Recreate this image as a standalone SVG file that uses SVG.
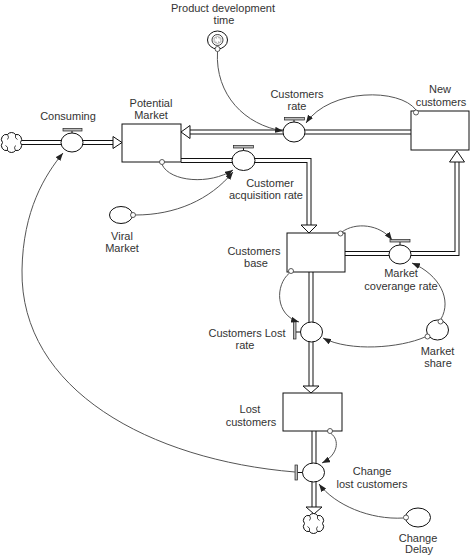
<svg xmlns="http://www.w3.org/2000/svg" width="471" height="557" viewBox="0 0 471 557">
<defs>
<style>
.lbl{font-family:"Liberation Sans",Arial,sans-serif;font-size:11px;fill:#333;text-anchor:middle}
.stock{fill:#fff;stroke:#111;stroke-width:1}
.valve{fill:#fff;stroke:#111;stroke-width:1}
.aux{fill:#fff;stroke:#111;stroke-width:1}
.pipeo{fill:none;stroke:#111;stroke-width:5}
.pipei{fill:none;stroke:#fff;stroke-width:3}
.head{fill:#fff;stroke:#111;stroke-width:1}
.link{fill:none;stroke:#555;stroke-width:1;marker-end:url(#arr)}
.dot{fill:#fff;stroke:#333;stroke-width:0.8}
.handle{fill:#bbb;stroke:#222;stroke-width:0.7}
.stem{stroke:#111;stroke-width:1}
.cloud{fill:#fff;stroke:#111;stroke-width:1}
.curl{fill:none;stroke:#111;stroke-width:0.8}
</style>
<marker id="arr" markerWidth="8" markerHeight="6" refX="8" refY="3" orient="auto" markerUnits="userSpaceOnUse"><path d="M0,0 L8,3 L0,6 z" fill="#222"/></marker>
<g id="cloudShape">
<path class="cloud" d="M-4,-8 a5,5 0 0 1 8,0 a5,5 0 0 1 5,8 a5,5 0 0 1 -5,8 a5,5 0 0 1 -8,0 a5,5 0 0 1 -5,-8 a5,5 0 0 1 5,-8 z"/>
<path class="curl" d="M-4,-8 q2,3 0,5 M4,-8 q-1,4 2,5 M4,8 q-2,-3 0,-5 M-4,8 q1,-4 -2,-5"/>
</g>
</defs>
<rect width="471" height="557" fill="#fff"/>

<g id="flows">
<path class="pipeo" d="M22,142.5 H114"/><path class="pipei" d="M22,142.5 H114"/>
<polygon class="head" points="113,136.5 122,142.5 113,148.5"/>
<path class="pipeo" d="M411,132 H189"/><path class="pipei" d="M411,132 H189"/>
<polygon class="head" points="190,125.5 181,132 190,138.5"/>
<path class="pipeo" d="M181,160.5 H309 V226"/><path class="pipei" d="M181,160.5 H309 V226"/>
<polygon class="head" points="301,225 309,233 317,225"/>
<path class="pipeo" d="M345,253.5 H457 V161"/><path class="pipei" d="M345,253.5 H457 V161"/>
<polygon class="head" points="449.5,162 457,151 464.5,162"/>
<path class="pipeo" d="M311,272 V387"/><path class="pipei" d="M311,272 V387"/>
<polygon class="head" points="303,386 311,393 319,386"/>
<path class="pipeo" d="M314,431 V508"/><path class="pipei" d="M314,431 V508"/>
<polygon class="head" points="306,507 314,514 322,507"/>
</g>

<g id="source-cloud"><use href="#cloudShape" transform="translate(11.5,142.5)"/></g>
<g id="sink-cloud"><use href="#cloudShape" transform="translate(313.5,523.5)"/></g>

<g id="potential-market">
<rect class="stock" x="122" y="124" width="59" height="38"/>
<circle class="dot" cx="162" cy="162" r="2.5"/>
<text class="lbl" x="151" y="107">Potential</text>
<text class="lbl" x="151" y="119">Market</text>
</g>

<g id="new-customers">
<rect class="stock" x="411" y="111" width="58" height="39"/>
<circle class="dot" cx="416" cy="112.5" r="2.5"/>
<text class="lbl" x="440" y="93">New</text>
<text class="lbl" x="441" y="106">customers</text>
</g>

<g id="customers-base">
<rect class="stock" x="287" y="233" width="58" height="39"/>
<circle class="dot" cx="340.5" cy="233.5" r="2.5"/>
<circle class="dot" cx="291" cy="271" r="2.5"/>
<text class="lbl" x="254" y="255">Customers</text>
<text class="lbl" x="256" y="267">base</text>
</g>

<g id="lost-customers">
<rect class="stock" x="283" y="393" width="59" height="38"/>
<circle class="dot" cx="330" cy="431" r="2.5"/>
<text class="lbl" x="250" y="413">Lost</text>
<text class="lbl" x="251" y="426">customers</text>
</g>

<g id="consuming">
<ellipse class="valve" cx="72" cy="142.5" rx="11" ry="9.5"/>
<line class="stem" x1="72" y1="130.5" x2="72" y2="133"/>
<rect class="handle" x="63" y="128.5" width="19" height="2.5"/>
<text class="lbl" x="68" y="120">Consuming</text>
</g>

<g id="customers-rate">
<ellipse class="valve" cx="294" cy="132" rx="11" ry="10"/>
<line class="stem" x1="294" y1="120" x2="294" y2="122"/>
<rect class="handle" x="284.5" y="117.5" width="20" height="2.5"/>
<text class="lbl" x="297" y="98">Customers</text>
<text class="lbl" x="297" y="110">rate</text>
</g>

<g id="customer-acquisition-rate">
<ellipse class="valve" cx="243.5" cy="160.5" rx="11.5" ry="10"/>
<line class="stem" x1="243.5" y1="148" x2="243.5" y2="150.5"/>
<rect class="handle" x="233.5" y="145.5" width="20" height="2.5"/>
<text class="lbl" x="270" y="187">Customer</text>
<text class="lbl" x="266" y="199">acquisition rate</text>
</g>

<g id="market-coverange-rate">
<ellipse class="valve" cx="400" cy="254.5" rx="11" ry="9.5"/>
<line class="stem" x1="400" y1="242" x2="400" y2="245"/>
<rect class="handle" x="390" y="239.5" width="20" height="2.5"/>
<text class="lbl" x="401" y="277">Market</text>
<text class="lbl" x="401" y="290">coverange rate</text>
</g>

<g id="customers-lost-rate">
<ellipse class="valve" cx="311.5" cy="332" rx="11" ry="10"/>
<line class="stem" x1="296" y1="332" x2="300.5" y2="332"/>
<rect class="handle" x="293.5" y="321" width="2.5" height="18"/>
<text class="lbl" x="247" y="337">Customers Lost</text>
<text class="lbl" x="245" y="349">rate</text>
</g>

<g id="change-lost-customers">
<ellipse class="valve" cx="313.5" cy="472.5" rx="11" ry="9.5"/>
<line class="stem" x1="297.5" y1="472.5" x2="302.5" y2="472.5"/>
<rect class="handle" x="295" y="465" width="2.5" height="15"/>
<text class="lbl" x="372" y="475">Change</text>
<text class="lbl" x="372" y="488">lost customers</text>
</g>

<g id="viral-market">
<ellipse class="aux" cx="121" cy="215" rx="11.5" ry="8.5"/>
<circle class="dot" cx="133" cy="215" r="2.5"/>
<text class="lbl" x="122" y="240">Viral</text>
<text class="lbl" x="122" y="252">Market</text>
</g>

<g id="market-share">
<ellipse class="aux" cx="437.5" cy="330" rx="11" ry="10"/>
<circle class="dot" cx="440.5" cy="321.5" r="2.5"/>
<circle class="dot" cx="427.5" cy="336.5" r="2.5"/>
<text class="lbl" x="437.5" y="355">Market</text>
<text class="lbl" x="438" y="367">share</text>
</g>

<g id="change-delay">
<ellipse class="aux" cx="418" cy="517.5" rx="12.5" ry="9.5"/>
<circle class="dot" cx="406" cy="517.5" r="2.5"/>
<text class="lbl" x="418" y="542">Change</text>
<text class="lbl" x="419" y="553">Delay</text>
</g>

<g id="product-development-time">
<ellipse class="aux" cx="217.5" cy="40" rx="10" ry="9"/>
<circle class="curl" cx="217.5" cy="40" r="5.5"/>
<use href="#cloudShape" transform="translate(217.5,40) scale(0.35)"/>
<circle class="dot" cx="217.5" cy="49" r="2.5"/>
<text class="lbl" x="223" y="12">Product development</text>
<text class="lbl" x="224" y="24">time</text>
</g>

<g id="links">
<path class="link" d="M217.5,51.5 C215,95 245,125 283,131"/>
<path class="link" d="M416,110 C400,88 330,88 306,123"/>
<path class="link" d="M162,164.5 C170,182 210,185 233,170"/>
<path class="link" d="M135.5,215 C175,215 210,200 233,172"/>
<path class="link" d="M342,232 C355,222 380,224 392,240"/>
<path class="link" d="M289.5,273 C275,285 275,315 299,322"/>
<path class="link" d="M441,319 C452,300 440,275 412,263"/>
<path class="link" d="M425,337 C400,348 350,352 323,338"/>
<path class="link" d="M331,433.5 C340,440 338,455 322,463"/>
<path class="link" d="M403.5,518 C370,520 335,505 319,484"/>
<path class="link" d="M295,472 C150,460 20,390 22,270 C23,210 45,175 63,153"/>
</g>
</svg>
